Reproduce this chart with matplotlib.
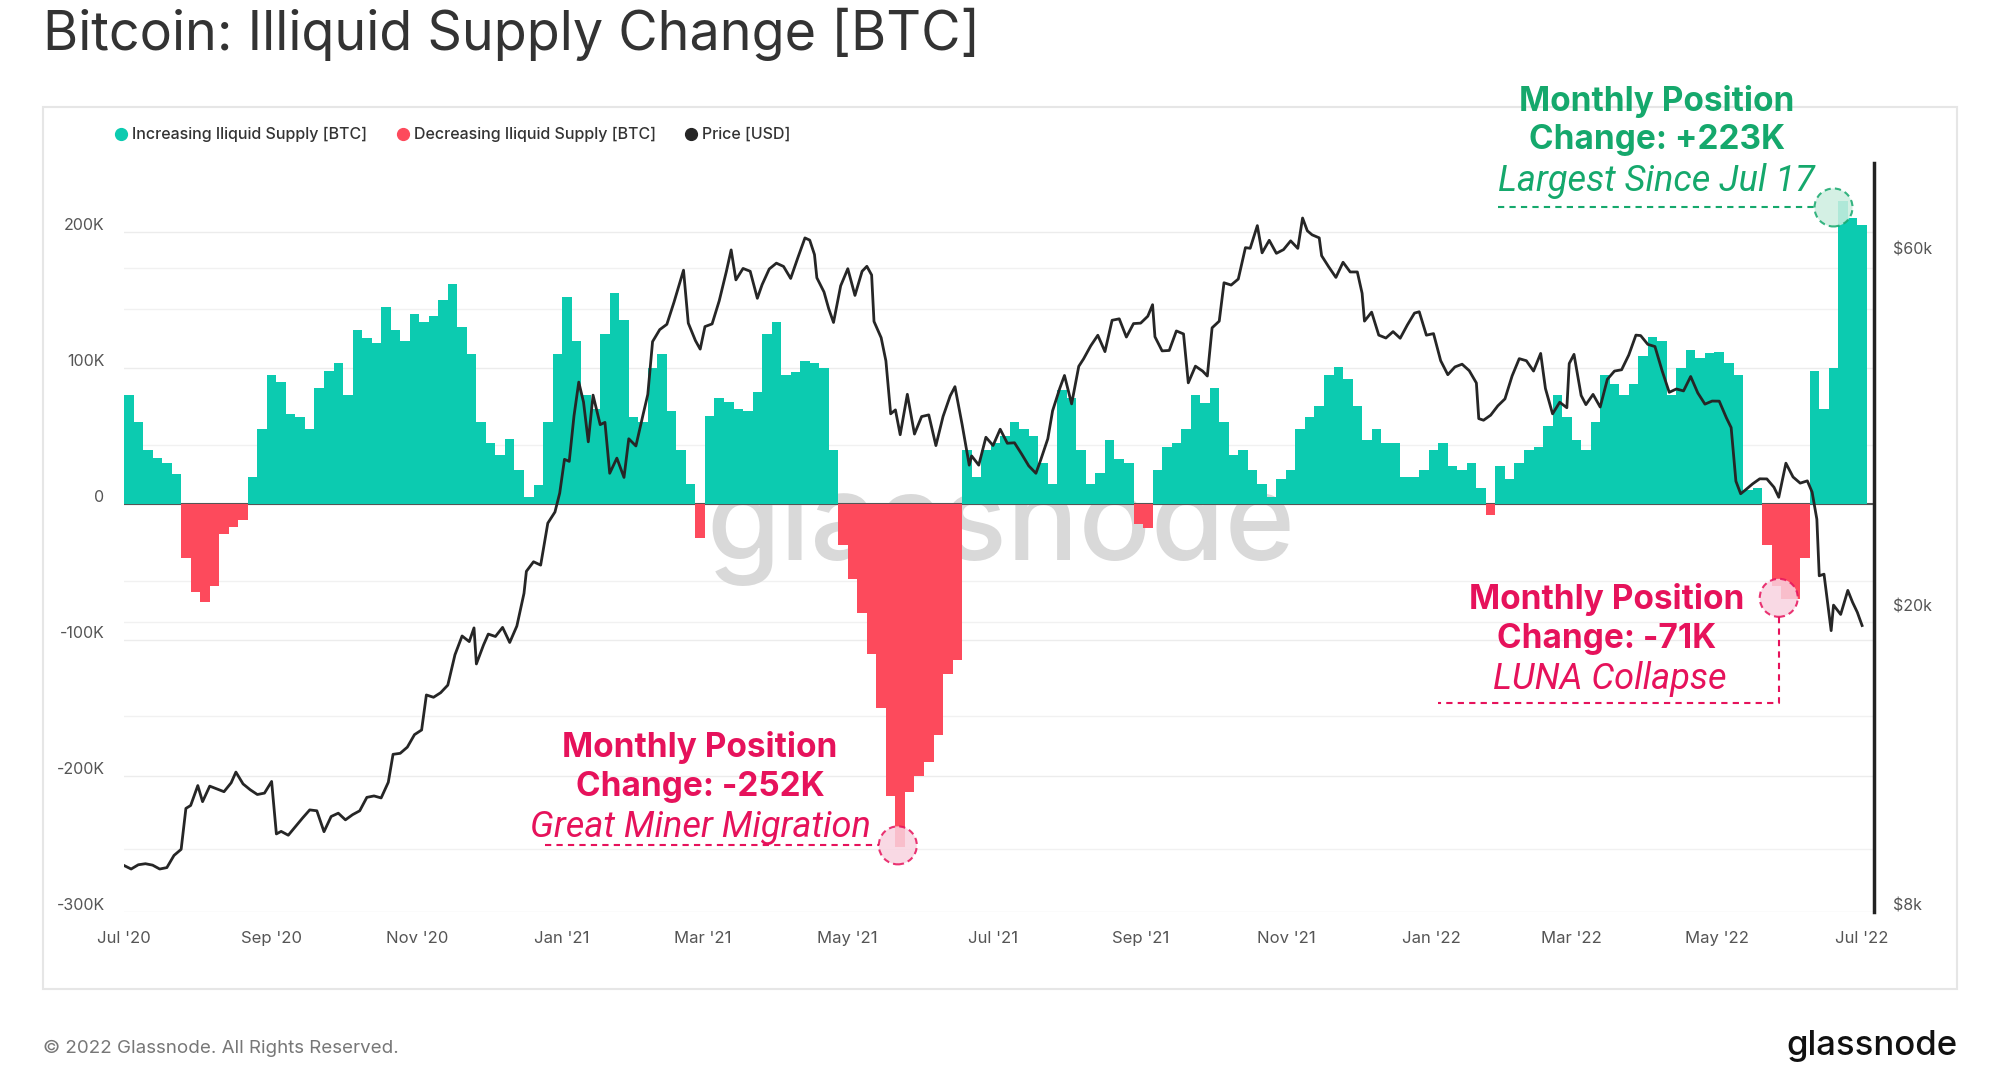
import matplotlib
matplotlib.use('Agg')
import matplotlib.pyplot as plt
import matplotlib.dates as mdates
from matplotlib.patches import Ellipse, Rectangle
from matplotlib.lines import Line2D
from matplotlib.transforms import ScaledTranslation, blended_transform_factory
import pandas as pd

# ---------------- data ----------------
supply_start = '2020-07-01'
supply_step_days = 4
# 30-day change of illiquid supply [BTC], one value every 4 days
supply_change = [
    80000, 60000, 40000, 34000, 30000, 22000, -40000, -65000, -72000, -60000,
    -22000, -17000, -12000, 20000, 55000, 95000, 90000, 66000, 64000, 55000,
    85000, 98000, 104000, 80000, 128000, 122000, 118000, 145000, 128000, 120000,
    140000, 134000, 138000, 150000, 162000, 130000, 110000, 60000, 45000, 36000,
    48000, 25000, 5000, 14000, 60000, 110000, 152000, 120000, 80000, 70000,
    125000, 155000, 135000, 64000, 60000, 100000, 110000, 68000, 40000, 15000,
    -25000, 65000, 78000, 75000, 70000, 68000, 82000, 125000, 134000, 95000,
    97000, 105000, 104000, 100000, 40000, -30000, -55000, -80000, -110000, -150000,
    -215000, -252000, -212000, -200000, -190000, -170000, -125000, -115000, 40000, 20000,
    40000, 45000, 50000, 60000, 55000, 50000, 30000, 15000, 84000, 78000,
    40000, 15000, 23000, 47000, 33000, 30000, -15000, -18000, 25000, 42000,
    45000, 55000, 80000, 74000, 85000, 60000, 36000, 40000, 25000, 15000,
    5000, 18000, 25000, 55000, 64000, 72000, 95000, 101000, 92000, 72000,
    47000, 55000, 45000, 45000, 20000, 20000, 25000, 40000, 45000, 28000,
    25000, 30000, 12000, -8000, 28000, 18000, 30000, 40000, 42000, 57000,
    80000, 64000, 47000, 40000, 60000, 95000, 88000, 80000, 88000, 109000,
    123000, 120000, 80000, 100000, 113000, 107000, 111000, 112000, 104000, 95000,
    10000, 12000, -30000, -60000, -70000, -70000, -40000, 98000, 70000, 100000,
    223000, 210000, 205000,
]

price_dates = [
    '2020-07-01', '2020-07-04', '2020-07-07', '2020-07-10', '2020-07-13', '2020-07-16', '2020-07-19',
    '2020-07-22', '2020-07-25', '2020-07-27', '2020-07-29', '2020-08-01', '2020-08-03', '2020-08-06',
    '2020-08-09', '2020-08-12', '2020-08-15', '2020-08-17', '2020-08-20', '2020-08-23', '2020-08-26',
    '2020-08-29', '2020-09-01', '2020-09-03', '2020-09-05', '2020-09-08', '2020-09-11', '2020-09-14',
    '2020-09-17', '2020-09-20', '2020-09-23', '2020-09-26', '2020-09-29', '2020-10-02', '2020-10-05',
    '2020-10-08', '2020-10-11', '2020-10-14', '2020-10-17', '2020-10-20', '2020-10-22', '2020-10-25',
    '2020-10-28', '2020-10-31', '2020-11-03', '2020-11-05', '2020-11-08', '2020-11-11', '2020-11-14',
    '2020-11-17', '2020-11-20', '2020-11-23', '2020-11-25', '2020-11-26', '2020-11-29', '2020-12-01',
    '2020-12-04', '2020-12-07', '2020-12-10', '2020-12-13', '2020-12-16', '2020-12-17', '2020-12-20',
    '2020-12-23', '2020-12-26', '2020-12-29', '2020-12-31',
    '2021-01-02', '2021-01-04', '2021-01-06', '2021-01-08', '2021-01-10', '2021-01-12', '2021-01-14',
    '2021-01-17', '2021-01-19', '2021-01-21', '2021-01-24', '2021-01-27', '2021-01-29', '2021-02-01',
    '2021-02-04', '2021-02-06', '2021-02-08', '2021-02-11', '2021-02-14', '2021-02-17', '2021-02-20',
    '2021-02-21', '2021-02-23', '2021-02-26', '2021-02-28', '2021-03-02', '2021-03-05', '2021-03-08',
    '2021-03-11', '2021-03-13', '2021-03-15', '2021-03-18', '2021-03-21', '2021-03-24', '2021-03-26',
    '2021-03-29', '2021-04-01', '2021-04-04', '2021-04-07', '2021-04-10', '2021-04-13', '2021-04-15',
    '2021-04-17', '2021-04-18', '2021-04-21', '2021-04-23', '2021-04-25', '2021-04-28', '2021-05-01',
    '2021-05-04', '2021-05-07', '2021-05-09', '2021-05-11', '2021-05-12', '2021-05-15', '2021-05-17',
    '2021-05-19', '2021-05-21', '2021-05-23', '2021-05-26', '2021-05-29', '2021-06-01', '2021-06-04',
    '2021-06-07', '2021-06-10', '2021-06-13', '2021-06-15', '2021-06-18', '2021-06-21', '2021-06-22',
    '2021-06-25', '2021-06-28', '2021-07-01', '2021-07-04', '2021-07-07', '2021-07-10', '2021-07-13',
    '2021-07-16', '2021-07-19', '2021-07-21', '2021-07-24', '2021-07-26', '2021-07-29', '2021-07-31',
    '2021-08-03', '2021-08-06', '2021-08-08', '2021-08-11', '2021-08-14', '2021-08-17', '2021-08-20',
    '2021-08-23', '2021-08-26', '2021-08-29', '2021-09-01', '2021-09-04', '2021-09-06', '2021-09-07',
    '2021-09-10', '2021-09-13', '2021-09-16', '2021-09-19', '2021-09-21', '2021-09-24', '2021-09-27',
    '2021-09-29', '2021-10-01', '2021-10-04', '2021-10-06', '2021-10-09', '2021-10-12', '2021-10-15',
    '2021-10-17', '2021-10-20', '2021-10-22', '2021-10-25', '2021-10-28', '2021-10-31', '2021-11-03',
    '2021-11-06', '2021-11-08', '2021-11-10', '2021-11-12', '2021-11-15', '2021-11-16', '2021-11-19',
    '2021-11-22', '2021-11-25', '2021-11-28', '2021-12-01', '2021-12-03', '2021-12-04', '2021-12-07',
    '2021-12-10', '2021-12-13', '2021-12-16', '2021-12-19', '2021-12-22', '2021-12-25', '2021-12-27',
    '2021-12-30',
    '2022-01-02', '2022-01-05', '2022-01-08', '2022-01-11', '2022-01-14', '2022-01-17', '2022-01-20',
    '2022-01-21', '2022-01-23', '2022-01-26', '2022-01-29', '2022-02-01', '2022-02-04', '2022-02-07',
    '2022-02-10', '2022-02-13', '2022-02-16', '2022-02-18', '2022-02-21', '2022-02-24', '2022-02-27',
    '2022-02-28', '2022-03-02', '2022-03-05', '2022-03-07', '2022-03-10', '2022-03-13', '2022-03-16',
    '2022-03-19', '2022-03-22', '2022-03-25', '2022-03-28', '2022-03-30', '2022-04-02', '2022-04-05',
    '2022-04-08', '2022-04-11', '2022-04-14', '2022-04-17', '2022-04-20', '2022-04-23', '2022-04-26',
    '2022-04-29', '2022-05-02', '2022-05-05', '2022-05-07', '2022-05-09', '2022-05-11', '2022-05-13',
    '2022-05-16', '2022-05-19', '2022-05-22', '2022-05-25', '2022-05-27', '2022-05-30', '2022-06-02',
    '2022-06-05', '2022-06-08', '2022-06-10', '2022-06-12', '2022-06-13', '2022-06-15', '2022-06-18',
    '2022-06-19', '2022-06-22', '2022-06-25', '2022-06-27', '2022-06-29', '2022-07-01',
]
price_usd = [
    9230, 9130, 9250, 9280, 9240, 9130, 9170,
    9520, 9700, 11000, 11100, 11800, 11230, 11780,
    11680, 11580, 11900, 12300, 11860, 11650, 11480,
    11530, 11950, 10170, 10250, 10130, 10400, 10680,
    10950, 10920, 10240, 10730, 10840, 10620, 10790,
    10920, 11380, 11430, 11360, 11920, 12990, 13030,
    13280, 13800, 14000, 15590, 15480, 15700, 16070,
    17640, 18690, 18370, 19160, 17150, 18180, 18800,
    18660, 19190, 18320, 19270, 21310, 22800, 23480,
    23240, 26440, 27360, 29000,
    32170, 31970, 36770, 40790, 38360, 33950, 39190,
    35790, 36040, 30820, 32290, 30430, 34270, 33520,
    36900, 39280, 46200, 47930, 48720, 52150, 56100,
    57540, 48900, 46340, 45140, 48380, 48780, 52380,
    57330, 61240, 55850, 57850, 57350, 52780, 55030,
    57750, 58800, 58210, 56100, 59770, 63540, 63110,
    60370, 56210, 53810, 51090, 49000, 54840, 57800,
    53250, 57350, 58230, 56700, 49150, 46760, 43540,
    37000, 37450, 34700, 39290, 34770, 36690, 36880,
    33560, 36700, 39100, 40220, 35820, 31600, 32510,
    31600, 34430, 33570, 35290, 33800, 33850, 32700,
    31530, 30820, 32100, 34270, 37340, 40000, 41630,
    38150, 42820, 43800, 45590, 47110, 44800, 49330,
    49550, 46850, 48830, 48900, 49950, 51750, 46890,
    44900, 44960, 47740, 47300, 40700, 42840, 42200,
    41560, 48200, 49200, 55360, 54970, 56000, 61670,
    61550, 65990, 60690, 63080, 60600, 61300, 62970,
    61530, 67550, 64950, 64150, 63550, 60160, 58120,
    56280, 58960, 57230, 57230, 53600, 49200, 50580,
    47130, 46710, 47640, 46680, 48620, 50430, 50640,
    47120,
    47350, 43570, 41730, 42740, 43100, 42250, 40680,
    36460, 36280, 36850, 37920, 38740, 41570, 43840,
    43560, 42200, 44550, 40000, 37000, 38340, 37700,
    43190, 44420, 39150, 38060, 39280, 37780, 41140,
    42200, 42370, 44330, 47130, 47060, 45810, 45500,
    42250, 39530, 39940, 39700, 41500, 39450, 38120,
    38480, 38470, 36550, 35470, 30080, 28940, 29280,
    29830, 30300, 30290, 29520, 28630, 31790, 30470,
    29900, 30110, 29090, 26760, 22490, 22600, 19000,
    20550, 19970, 21500, 20730, 20100, 19300,
]

left_ticks = [-300000, -200000, -100000, 0, 100000, 200000]
left_labels = ['-300K', '-200K', '-100K', '0', '100K', '200K']
right_ticks = [8000, 20000, 60000]
right_labels = ['$8k', '$20k', '$60k']
x_tick_dates = ['2020-07-01', '2020-09-01', '2020-11-01', '2021-01-01', '2021-03-01', '2021-05-01',
                '2021-07-01', '2021-09-01', '2021-11-01', '2022-01-01', '2022-03-01', '2022-05-01',
                '2022-07-01']
x_tick_labels = ["Jul '20", "Sep '20", "Nov '20", "Jan '21", "Mar '21", "May '21", "Jul '21",
                 "Sep '21", "Nov '21", "Jan '22", "Mar '22", "May '22", "Jul '22"]

# ---------------- style ----------------
GREEN = '#0ccbb0'
RED = '#fd4a5c'
PRICE = '#262626'
ANN_GREEN = '#15a86c'
ANN_RED = '#e6125b'
W, H = 2000, 1066
right_grid_prices = [9700, 14600, 19500, 22100, 33600, 51000, 58000]

plt.rcParams['font.family'] = ['Inter', 'DejaVu Sans']

fig = plt.figure(figsize=(W / 100, H / 100), dpi=100)
fig.patch.set_facecolor('white')


def fx(px):
    return px / W


def fy(py):
    return 1 - py / H


# outer box
fig.add_artist(Rectangle((fx(43), fy(989)), fx(1957) - fx(43), fy(107) - fy(989),
                         transform=fig.transFigure, fill=False, edgecolor='#e6e6e6', lw=1.5))

# title
fig.text(fx(43), fy(34), 'Bitcoin: Illiquid Supply Change [BTC]', fontsize=38.8,
         color='#333333', ha='left', va='center')

# legend
legend_items = [('Increasing Iliquid Supply [BTC]', GREEN, 121),
                ('Decreasing Iliquid Supply [BTC]', RED, 403),
                ('Price [USD]', PRICE, 691)]
for lab, col, xp in legend_items:
    fig.add_artist(Line2D([fx(xp)], [fy(134)], marker='o', ms=8.5, color=col, lw=0,
                          transform=fig.transFigure))
    fig.text(fx(xp + 11), fy(134), lab, fontsize=11.5, color='#333333', ha='left', va='center',
             fontweight='medium')

# axes
ax_left, ax_right, ax_top, ax_bottom = 124, 1874, 163, 912
ax = fig.add_axes([fx(ax_left), fy(ax_bottom), fx(ax_right) - fx(ax_left), fy(ax_top) - fy(ax_bottom)])
ax.set_facecolor('none')

x0 = mdates.date2num(pd.Timestamp(supply_start))
ax.set_xlim(x0, x0 + 735)
ax.set_ylim(-300000, 250700)

# right axis (price, log) - created early so its transform can be used for background grid
ax2 = ax.twinx()
ax2.set_yscale('log')
ax2.set_ylim(8000, 80000)

# background grid lines for the price axis, drawn inside the bar axes (behind the bars)
grid_tr = blended_transform_factory(ax.transAxes, ax2.transData)
for gp in right_grid_prices:
    ax.add_line(Line2D([0, 1], [gp, gp], transform=grid_tr, color='#f1f1f1', lw=1, zorder=0))

bar_dates = mdates.date2num(pd.date_range(supply_start, periods=len(supply_change),
                                          freq=f'{supply_step_days}D'))
bar_colors = [GREEN if v >= 0 else RED for v in supply_change]
ax.axhline(0, color='#555555', lw=1.5, zorder=1.5)
ax.bar(bar_dates, supply_change, width=supply_step_days, align='edge', color=bar_colors,
       linewidth=0, zorder=2)

# watermark (behind bars)
ax.text(fx(1001), fy(530), 'glassnode', transform=fig.transFigure, fontsize=86,
        color='#d9d9d9', ha='center', va='center', fontweight='medium', zorder=1)

# left axis
ax.set_yticks(left_ticks)
ax.set_yticklabels(left_labels)
ax.set_xticks(mdates.date2num(pd.to_datetime(x_tick_dates)))
ax.set_xticklabels(x_tick_labels)
ax.tick_params(axis='y', length=0, pad=14, labelsize=11.5, labelcolor='#555555')
ax.tick_params(axis='x', length=0, pad=14, labelsize=12, labelcolor='#555555')
ax.grid(axis='y', color='#ececec', lw=1, zorder=0)
ax.set_axisbelow(True)
for s in ax.spines.values():
    s.set_visible(False)
off = ScaledTranslation(0, 0.08, fig.dpi_scale_trans)
for lab in ax.get_yticklabels():
    lab.set_transform(lab.get_transform() + off)

ax2.set_yticks(right_ticks)
ax2.set_yticklabels(right_labels)
ax2.yaxis.set_minor_locator(matplotlib.ticker.NullLocator())
ax2.tick_params(axis='y', length=0, pad=14, labelsize=11.5, labelcolor='#555555')
for lab in ax2.get_yticklabels():
    lab.set_transform(lab.get_transform() + off)
for name, s in ax2.spines.items():
    s.set_visible(name == 'right')
ax2.spines['right'].set_color('#222222')
ax2.spines['right'].set_linewidth(2.5)
ax2.plot(mdates.date2num(pd.to_datetime(price_dates)), price_usd, color=PRICE, lw=2.0, zorder=3)

# ---------------- annotations ----------------
def d2n(s):
    return mdates.date2num(pd.Timestamp(s))

px_per_day = (ax_right - ax_left) / 735
px_per_unit = (ax_bottom - ax_top) / (250700 + 300000)
r_px = 19
ew, eh = 2 * r_px / px_per_day, 2 * r_px / px_per_unit
ITALIC = dict(style='italic', family=['Roboto', 'DejaVu Sans'], fontweight='normal', fontsize=26)
BOLD = dict(fontsize=24, fontweight='bold')

# top (green)
cx, cy = d2n('2022-06-19'), 218000
ax.add_patch(Ellipse((cx, cy), ew, eh, facecolor='#cdeee0', alpha=0.85, edgecolor=ANN_GREEN,
                     linestyle=(0, (3, 2)), lw=1.5, zorder=5))
ax.plot([d2n('2022-01-29'), cx - ew / 2], [cy, cy], color=ANN_GREEN, lw=1.5,
        linestyle=(0, (3, 2.5)), zorder=5)
fig.text(fx(1657), fy(102), 'Monthly Position', color=ANN_GREEN, ha='center', va='center', **BOLD)
fig.text(fx(1657), fy(140), 'Change: +223K', color=ANN_GREEN, ha='center', va='center', **BOLD)
fig.text(fx(1656), fy(181), 'Largest Since Jul 17', color=ANN_GREEN, ha='center', va='center',
         **ITALIC)

# middle (red)
cx, cy = d2n('2021-05-22'), -251000
ax.add_patch(Ellipse((cx, cy), ew, eh, facecolor='#f9d3e0', alpha=0.85, edgecolor=ANN_RED,
                     linestyle=(0, (3, 2)), lw=1.5, zorder=5))
ax.plot([d2n('2020-12-25'), cx - ew / 2], [cy, cy], color=ANN_RED, lw=1.5,
        linestyle=(0, (3, 2.5)), zorder=5)
fig.text(fx(700), fy(747), 'Monthly Position', color=ANN_RED, ha='center', va='center', **BOLD)
fig.text(fx(700), fy(787), 'Change: -252K', color=ANN_RED, ha='center', va='center', **BOLD)
fig.text(fx(700), fy(827), 'Great Miner Migration', color=ANN_RED, ha='center', va='center',
         **ITALIC)

# right (red)
cx, cy = d2n('2022-05-27'), -69000
ax.add_patch(Ellipse((cx, cy), ew, eh, facecolor='#f9d3e0', alpha=0.85, edgecolor=ANN_RED,
                     linestyle=(0, (3, 2)), lw=1.5, zorder=5))
ax.plot([cx, cx, d2n('2022-01-04')], [cy - eh / 2, -146000, -146000], color=ANN_RED, lw=1.5,
        linestyle=(0, (3, 2.5)), zorder=5)
fig.text(fx(1607), fy(600), 'Monthly Position', color=ANN_RED, ha='center', va='center', **BOLD)
fig.text(fx(1607), fy(639), 'Change: -71K', color=ANN_RED, ha='center', va='center', **BOLD)
fig.text(fx(1610), fy(679), 'LUNA Collapse', color=ANN_RED, ha='center', va='center', **ITALIC)

# footer
fig.text(fx(43), fy(1048), '\u00a9 2022 Glassnode. All Rights Reserved.', fontsize=13.5,
         color='#777777', ha='left', va='center')
fig.text(fx(1957), fy(1046), 'glassnode', fontsize=25, color='#111111', ha='right', va='center',
         fontweight='medium')

fig.savefig('out.png', dpi=100, facecolor='white')
